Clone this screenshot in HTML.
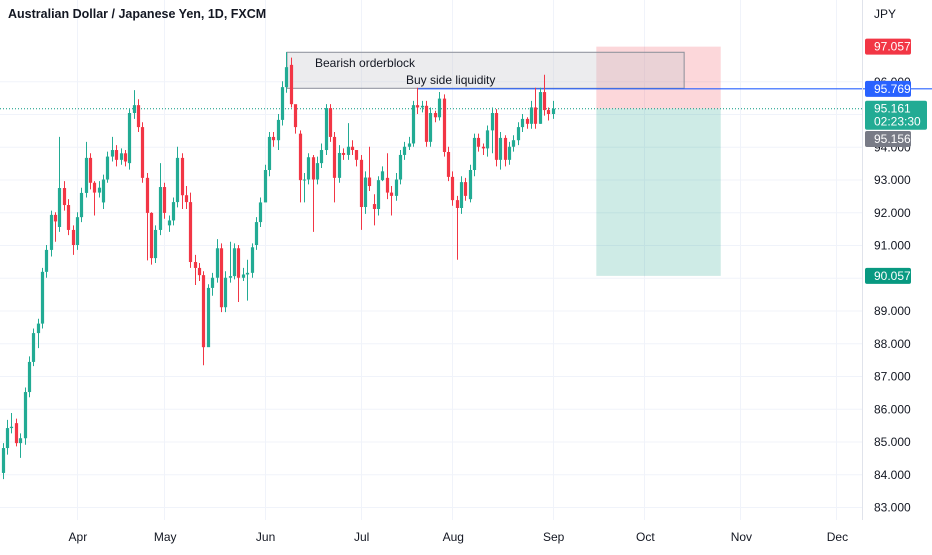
<!DOCTYPE html>
<html><head><meta charset="utf-8">
<style>
html,body{margin:0;padding:0;background:#fff;}
body{width:932px;height:550px;overflow:hidden;font-family:"Liberation Sans",sans-serif;}
svg text{font-family:"Liberation Sans",sans-serif;}
</style></head>
<body>
<svg id="chart" width="932" height="550" viewBox="0 0 932 550" xmlns="http://www.w3.org/2000/svg">
<rect x="0" y="0" width="932" height="550" fill="#ffffff"/>
<g id="grid"></g>
<g id="drawings"></g>
<g id="candles"></g>
<line x1="862.5" y1="0" x2="862.5" y2="520" stroke="#e0e3eb"/>
<g id="yaxis"></g>
<g id="xaxis"></g>
<g id="overlay"></g>
<text x="8" y="18" font-size="12.5" font-weight="bold" fill="#131722">Australian Dollar / Japanese Yen, 1D, FXCM</text>
<text x="874" y="18" font-size="12" fill="#131722">JPY</text>
</svg>
<script>
const opens=[84.04,84.80,85.41,85.56,84.95,85.10,86.51,87.43,88.31,88.60,90.18,90.85,91.92,91.55,92.74,92.22,91.46,91.00,91.85,92.59,93.66,92.90,92.60,92.30,93.00,93.70,93.90,93.60,93.80,93.50,95.03,95.27,94.60,93.05,91.98,90.60,91.46,92.77,91.60,91.75,92.31,93.66,92.52,92.31,90.48,90.30,90.08,87.88,89.69,90.00,90.90,89.10,90.00,90.05,90.90,90.00,90.10,90.15,91.00,91.70,92.30,93.29,94.30,94.20,94.82,95.82,96.50,95.30,94.40,92.98,93.00,93.68,93.00,93.50,93.90,95.18,94.30,93.05,93.81,93.75,94.00,93.90,93.60,92.16,93.06,92.25,92.10,92.98,93.05,92.60,92.50,93.00,93.75,94.00,94.10,95.27,95.20,95.25,94.15,95.03,94.90,95.47,93.84,93.08,92.37,92.13,92.92,92.40,93.29,94.27,94.00,93.95,94.50,95.03,93.60,94.27,93.60,94.00,94.20,94.60,94.85,94.70,95.20,94.70,95.67,95.12,95.00];
const closes=[84.80,85.41,85.45,84.95,85.10,86.51,87.43,88.31,88.60,90.18,90.85,91.92,91.72,92.74,92.22,91.46,91.00,91.85,92.59,93.66,92.90,92.60,92.75,93.00,93.70,93.90,93.60,93.80,93.55,95.03,95.27,94.60,93.05,91.98,90.60,91.46,92.77,91.98,91.75,92.31,93.66,92.52,92.31,90.48,90.30,90.08,87.88,89.69,90.00,90.90,89.10,90.00,90.05,90.90,90.00,90.10,90.15,90.93,91.70,92.30,93.29,94.30,94.20,94.82,95.82,96.43,95.30,94.60,92.98,93.00,93.68,93.00,93.50,93.90,95.18,94.30,93.05,93.81,93.75,94.00,93.90,93.60,92.16,93.06,92.80,92.10,92.98,93.25,92.60,92.50,93.00,93.75,94.00,94.10,95.27,95.20,95.25,94.15,95.03,94.90,95.47,93.84,93.08,92.37,92.13,92.92,92.50,93.29,94.27,94.00,93.95,94.50,95.03,93.60,94.27,93.60,94.00,94.20,94.60,94.85,94.70,95.20,94.70,95.67,95.12,95.00,95.16];
const highs=[84.95,85.66,85.87,85.70,85.25,86.65,87.60,88.45,88.75,90.30,91.00,92.05,92.00,94.30,92.95,92.40,91.60,92.00,92.75,94.15,93.80,92.95,92.95,93.15,93.85,94.30,94.05,93.95,93.90,95.15,95.73,95.45,94.75,93.20,92.00,91.60,93.50,92.90,91.90,92.45,94.00,93.80,92.80,92.60,90.70,90.45,90.20,89.80,90.15,91.18,91.05,90.20,91.10,91.05,91.00,90.30,90.55,91.05,91.85,92.45,93.45,94.45,94.45,95.00,96.00,96.89,96.72,94.80,94.50,93.20,93.80,93.75,93.70,94.10,95.30,95.30,94.45,94.05,93.95,94.72,94.20,93.80,93.75,93.25,94.00,92.55,93.10,93.40,93.80,92.80,93.20,93.90,94.15,94.30,95.40,95.80,95.40,95.40,95.20,95.10,95.67,95.60,94.00,93.25,92.50,93.10,93.05,93.45,94.40,94.40,94.10,94.65,95.20,95.15,94.45,94.35,94.15,94.35,94.75,95.00,94.90,95.40,95.80,95.80,96.20,95.20,95.40];
const lows=[83.85,84.60,85.25,84.85,84.50,84.90,86.35,87.30,87.85,88.45,90.00,90.65,91.10,91.40,92.05,91.30,90.70,90.85,91.70,92.45,92.70,91.90,92.45,92.10,92.90,93.55,93.40,93.45,93.40,93.30,94.85,94.45,92.90,90.53,90.40,90.45,91.30,91.80,91.40,91.60,92.15,92.10,92.10,90.30,89.78,89.90,87.33,87.90,89.45,89.85,88.95,88.95,89.85,89.95,89.26,89.90,89.30,90.00,90.85,91.55,92.60,93.10,94.00,93.90,94.65,95.65,95.20,94.40,92.30,92.30,92.85,91.40,92.85,93.35,93.75,94.15,92.30,92.90,93.60,93.60,93.75,93.40,91.46,91.95,92.65,91.60,91.90,92.95,92.40,91.90,92.35,92.85,93.60,93.90,94.00,95.00,95.05,94.00,94.00,94.75,94.80,93.70,92.95,92.20,90.55,91.95,92.35,92.30,93.10,93.85,93.75,93.70,93.80,93.40,93.30,93.40,93.45,93.85,94.05,94.45,94.55,94.55,94.55,94.70,94.95,94.80,94.85];
const startDate=[2023,2,9];
const priceTicks=[83,84,85,86,87,88,89,90,91,92,93,94,95,96];
const monthNames=["Jan","Feb","Mar","Apr","May","Jun","Jul","Aug","Sep","Oct","Nov","Dec"];
const orderBlockTop=96.90, orderBlockBottom=95.80;
const liquidityLevel=95.769;
const targetPrice=90.057, stopPrice=97.057, entryPrice=95.161, lastPrice=95.156;

const NS="http://www.w3.org/2000/svg";
function el(tag,attrs,parent,text){const e=document.createElementNS(NS,tag);for(const k in attrs)e.setAttribute(k,attrs[k]);if(text!==undefined)e.textContent=text;parent.appendChild(e);return e;}
function y(p){return 507-(p-83)*32.75;}
function x(i){return 2.7+i*4.365;}

const dates=[];
let d=new Date(Date.UTC(startDate[0],startDate[1],startDate[2]));
for(let i=0;i<200;i++){while(d.getUTCDay()===0||d.getUTCDay()===6)d=new Date(d.getTime()+864e5);dates.push(d);d=new Date(d.getTime()+864e5);}

const grid=document.getElementById('grid'),yax=document.getElementById('yaxis'),xax=document.getElementById('xaxis');
priceTicks.forEach(p=>{
  const gl=el('line',{x1:0,x2:862,y1:y(p)+0.5,y2:y(p)+0.5,stroke:'#f0f3fa'},grid);
  
  
  const t=el('text',{x:874,y:y(p)+4.5,'font-size':12,fill:'#131722'},yax,p.toFixed(3));
  
  
});
for(let i=1;i<dates.length;i++){
  if(dates[i].getUTCMonth()!==dates[i-1].getUTCMonth()){
    const xx=x(i);if(xx>850)break;
    const gl=el('line',{x1:Math.round(xx)+0.5,x2:Math.round(xx)+0.5,y1:0,y2:520,stroke:'#f0f3fa'},grid);
    
    
    const t=el('text',{x:xx+1,y:541,'font-size':12,fill:'#131722','text-anchor':'middle'},xax,monthNames[dates[i].getUTCMonth()]);
    
    
  }
}

const dr=document.getElementById('drawings');
const xEntryStart=x(136), xEntryEnd=x(164.5);
let r=el('rect',{x:xEntryStart,y:y(stopPrice),width:xEntryEnd-xEntryStart,height:y(entryPrice)-y(stopPrice),fill:'rgba(242,54,69,0.2)'},dr);


r=el('rect',{x:xEntryStart,y:y(entryPrice),width:xEntryEnd-xEntryStart,height:y(targetPrice)-y(entryPrice),fill:'rgba(8,153,129,0.2)'},dr);


r=el('rect',{x:x(65)+0.5,y:y(orderBlockTop)+0.5,width:x(156)-x(65),height:y(orderBlockBottom)-y(orderBlockTop),fill:'rgba(200,200,205,0.35)',stroke:'#8a8e99','stroke-width':1},dr);


let t=el('text',{x:315,y:67,'font-size':12,fill:'#131722'},dr,'Bearish orderblock');


let ln=el('line',{x1:x(95),x2:932,y1:y(liquidityLevel),y2:y(liquidityLevel),stroke:'#2962ff','stroke-width':1.2},dr);


t=el('text',{x:406,y:84,'font-size':12,fill:'#131722'},dr,'Buy side liquidity');


ln=el('line',{x1:0,x2:862,y1:y(entryPrice),y2:y(entryPrice),stroke:'#089981','stroke-dasharray':'1 2'},dr);



const cg=document.getElementById('candles');
for(let i=0;i<closes.length;i++){
  const up=closes[i]>=opens[i];const col=up?'#22ab94':'#f23645';
  const cx=Math.round(x(i))+0.5;
  const g=el('g',{},cg);
  
  
  el('line',{x1:cx,x2:cx,y1:y(highs[i]),y2:y(lows[i]),stroke:col,'stroke-width':1},g);
  const top=y(Math.max(opens[i],closes[i])),bot=y(Math.min(opens[i],closes[i]));
  el('rect',{x:cx-1.6,y:top,width:3.2,height:Math.max(1,bot-top),fill:col},g);
}

const ov=document.getElementById('overlay');
function tag(p,bg,lines,w,name){
  const h=lines.length*13+3;const ty=y(p)-8;
  const g=el('g',{},ov);
  
  
  el('rect',{x:865,y:ty,width:w,height:h,rx:2,fill:bg},g);
  lines.forEach((s,k)=>el('text',{x:874,y:ty+12+k*13,'font-size':12,fill:'#ffffff'},g,s));
}
tag(stopPrice,'#f23645',[stopPrice.toFixed(3)],46,'stop-price-tag');
tag(liquidityLevel,'#2962ff',[liquidityLevel.toFixed(3)],46,'liquidity-price-tag');
tag(lastPrice-0.92,'#787b86',[lastPrice.toFixed(3)],46,'prev-close-tag');
tag(entryPrice,'#22ab94',[entryPrice.toFixed(3),'02:23:30'],62,'current-price-tag');
tag(targetPrice,'#089981',[targetPrice.toFixed(3)],46,'target-price-tag');
</script>
</body></html>
